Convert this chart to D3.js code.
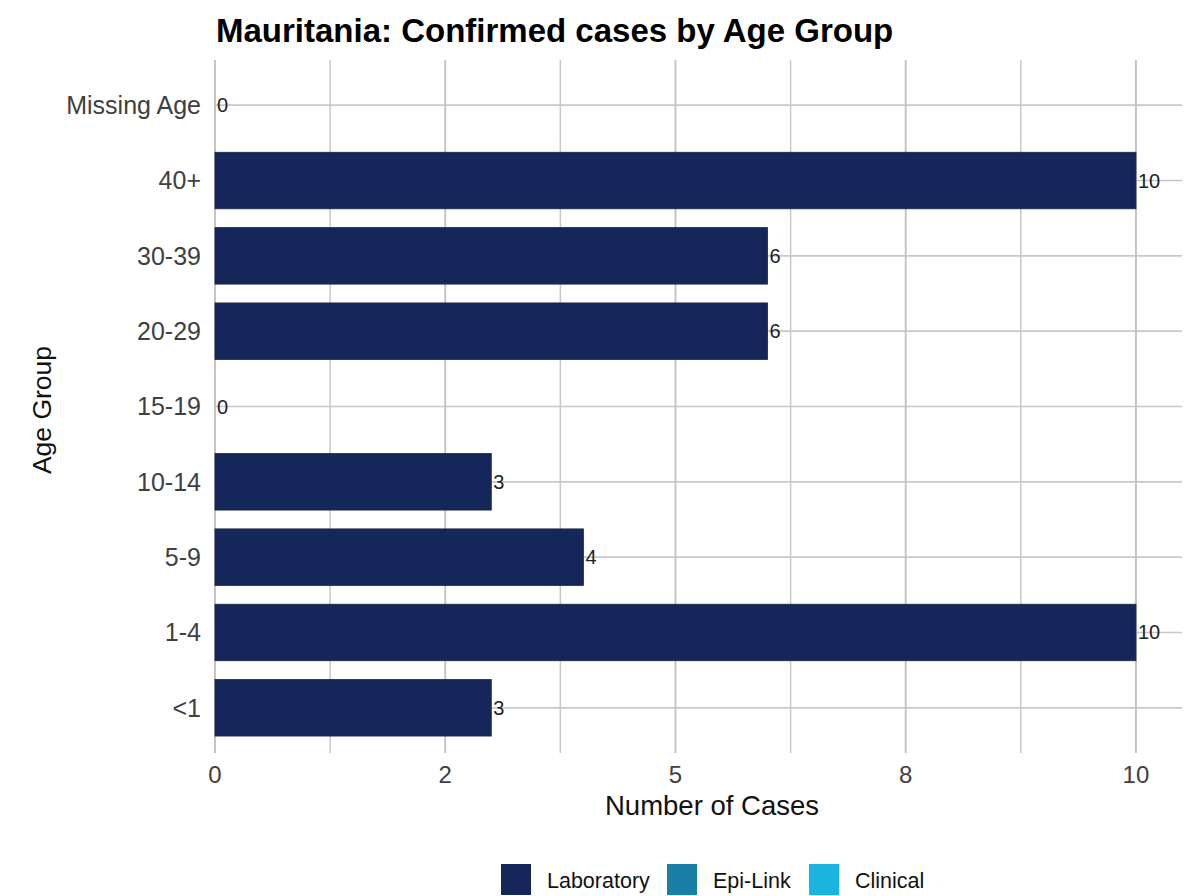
<!DOCTYPE html>
<html>
<head>
<meta charset="utf-8">
<script src="https://cdn.jsdelivr.net/npm/d3@7"></script>
<style>
  body { margin: 0; background: #fff; }
  svg { display: block; font-family: "Liberation Sans", Arial, sans-serif; }
</style>
</head>
<body>
<svg id="chart" width="1188" height="896"></svg>
<script>
const categories = ["<1", "1-4", "5-9", "10-14", "15-19", "20-29", "30-39", "40+", "Missing Age"];
const laboratory = [3, 10, 4, 3, 0, 6, 6, 10, 0];
const epiLink = [0, 0, 0, 0, 0, 0, 0, 0, 0];
const clinical = [0, 0, 0, 0, 0, 0, 0, 0, 0];
const seriesNames = ["Laboratory", "Epi-Link", "Clinical"];
const seriesColors = ["#15275a", "#1a7fa6", "#1ab4e0"];
const xTickValues = [0, 2.5, 5, 7.5, 10];
const xTickLabels = ["0", "2", "5", "8", "10"];
const xMinorValues = [1.25, 3.75, 6.25, 8.75];

const svg = d3.select("#chart");
const panel = { left: 215, right: 1182, top: 60, bottom: 753 };

const x = d3.scaleLinear().domain([0, 10.5]).range([panel.left, panel.right]);
const y = d3.scalePoint().domain(categories.slice().reverse()).range([panel.top, panel.bottom]).padding(0.6);
const step = y.step();
const barH = step * 0.75;

const grid = svg.append("g");
grid.selectAll("line.h").data(categories).join("line")
  .attr("x1", panel.left).attr("x2", panel.right)
  .attr("y1", d => y(d)).attr("y2", d => y(d))
  .attr("stroke", "#c8c8c8").attr("stroke-width", 1.7);
grid.selectAll("line.vm").data(xMinorValues).join("line")
  .attr("x1", d => x(d)).attr("x2", d => x(d))
  .attr("y1", panel.top).attr("y2", panel.bottom)
  .attr("stroke", "#c8c8c8").attr("stroke-width", 1.5);
grid.selectAll("line.vM").data(xTickValues).join("line")
  .attr("x1", d => x(d)).attr("x2", d => x(d))
  .attr("y1", panel.top).attr("y2", panel.bottom)
  .attr("stroke", "#c2c2c2").attr("stroke-width", 1.9);

const rows = categories.map((c, i) => ({ cat: c, Laboratory: laboratory[i], "Epi-Link": epiLink[i], Clinical: clinical[i] }));
const stack = d3.stack().keys(seriesNames)(rows);
const color = d3.scaleOrdinal().domain(seriesNames).range(seriesColors);

svg.append("g").selectAll("g").data(stack).join("g")
  .attr("fill", d => color(d.key))
  .selectAll("rect").data(d => d.filter(v => v[1] - v[0] > 0)).join("rect")
  .attr("x", d => x(d[0]))
  .attr("width", d => x(d[1]) - x(d[0]))
  .attr("y", d => y(d.data.cat) - barH / 2)
  .attr("height", barH)
  .attr("stroke", "#1b2440").attr("stroke-width", 0.8);

const totals = categories.map((c, i) => laboratory[i] + epiLink[i] + clinical[i]);
svg.append("g").selectAll("text").data(categories).join("text")
  .attr("x", (d, i) => x(totals[i]) + 2)
  .attr("y", d => y(d))
  .attr("dy", "0.35em")
  .attr("font-size", 20)
  .attr("fill", "#222")
  .text((d, i) => totals[i]);

svg.append("g").selectAll("text").data(categories).join("text")
  .attr("x", 201)
  .attr("y", d => y(d))
  .attr("dy", "0.35em")
  .attr("text-anchor", "end")
  .attr("font-size", 25)
  .attr("fill", "#404040")
  .text(d => d);

svg.append("g").selectAll("text").data(xTickValues).join("text")
  .attr("x", d => x(d))
  .attr("y", 775)
  .attr("dy", "0.35em")
  .attr("text-anchor", "middle")
  .attr("font-size", 24)
  .attr("fill", "#404040")
  .text((d, i) => xTickLabels[i]);

svg.append("text")
  .attr("x", 712).attr("y", 815)
  .attr("text-anchor", "middle")
  .attr("font-size", 27.5)
  .attr("fill", "#111")
  .text("Number of Cases");

svg.append("text")
  .attr("transform", "translate(51,410) rotate(-90)")
  .attr("text-anchor", "middle")
  .attr("font-size", 26.5)
  .attr("fill", "#111")
  .text("Age Group");

svg.append("text")
  .attr("x", 216).attr("y", 42)
  .attr("font-size", 33)
  .attr("font-weight", "bold")
  .attr("fill", "#000")
  .text("Mauritania: Confirmed cases by Age Group");

const legendX = [501, 667, 809];
const leg = svg.append("g").selectAll("g").data(seriesNames).join("g")
  .attr("transform", (d, i) => `translate(${legendX[i]},864)`);
leg.append("rect")
  .attr("width", 30).attr("height", 31)
  .attr("fill", d => color(d));
leg.append("text")
  .attr("x", 46).attr("y", 16)
  .attr("dy", "0.35em")
  .attr("font-size", 21.5)
  .attr("fill", "#111")
  .text(d => d);
</script>
</body>
</html>
